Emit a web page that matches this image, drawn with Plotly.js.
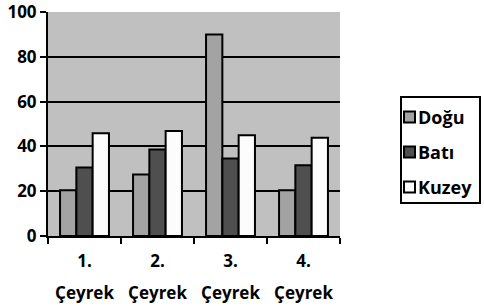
<!DOCTYPE html>
<html>
<head>
<meta charset="utf-8">
<script src="https://cdn.plot.ly/plotly-3.0.1.min.js"></script>
<style>html,body{margin:0;padding:0;background:#fff;}#chart{width:484px;height:306px;}</style>
</head>
<body>
<div id="chart"></div>
<script>
const quarters = ["1.", "2.", "3.", "4."];
const quarterWord = "Çeyrek";
const seriesNames = ["Doğu", "Batı", "Kuzey"];
const dogu = [20.4, 27.4, 90, 20.4];
const bati = [30.6, 38.6, 34.6, 31.6];
const kuzey = [45.9, 46.9, 45, 43.9];
const yTicks = [0, 20, 40, 60, 80, 100];

const seriesValues = [dogu, bati, kuzey];
const seriesColors = ["#a3a3a3", "#4f4f4f", "#fcfcfc"];
const font = {family: "'Open Sans', sans-serif", size: 17, color: "#000", weight: 700};
const legendFont = {family: "'Open Sans', sans-serif", size: 18, color: "#000", weight: 700};

// plot area in pixels (for legend placement)
const W = 484, H = 306;
const M = {l: 48, r: 144, t: 12, b: 70};
const pw = W - M.l - M.r, ph = H - M.t - M.b;
const px = x => (x - M.l) / pw;
const py = y => (H - M.b - y) / ph;

const traces = seriesNames.map((name, i) => ({
  type: "bar",
  name: name,
  x: quarters,
  y: seriesValues[i],
  marker: {color: seriesColors[i], line: {color: "#000", width: 2}},
  hoverinfo: "skip",
  showlegend: false
}));
traces.push({
  type: "scatter", mode: "markers", x: quarters, y: quarters.map(() => 0),
  xaxis: "x2", marker: {opacity: 0}, showlegend: false, hoverinfo: "skip"
});

// custom legend (box, swatches, labels)
const shapes = [{
  type: "rect", xref: "paper", yref: "paper",
  x0: px(401), x1: px(480), y0: py(203), y1: py(97),
  line: {color: "#000", width: 2}, fillcolor: "#fff", layer: "above"
}];
const annotations = [];
const legendY = [117, 152, 187];
seriesNames.forEach((name, i) => {
  shapes.push({
    type: "rect", xref: "paper", yref: "paper",
    x0: px(404), x1: px(415), y0: py(legendY[i] + 5.5), y1: py(legendY[i] - 5.5),
    line: {color: "#000", width: 2}, fillcolor: seriesColors[i], layer: "above"
  });
  annotations.push({
    xref: "paper", yref: "paper", x: px(416), y: py(legendY[i]),
    xanchor: "left", yanchor: "middle", showarrow: false,
    text: name, font: legendFont
  });
});

const layout = {
  width: W, height: H,
  margin: M,
  paper_bgcolor: "#fff",
  plot_bgcolor: "#c0c0c0",
  font: font,
  barmode: "group",
  bargap: 0.33,
  bargroupgap: 0,
  showlegend: false,
  shapes: shapes,
  annotations: annotations,
  xaxis: {
    type: "category", range: [-0.5, 3.5],
    showline: true, linecolor: "#000", linewidth: 2,
    ticks: "outside", ticklen: 6, tickwidth: 2, tickcolor: "#000",
    tickson: "boundaries", showgrid: false, zeroline: false,
    ticklabelstandoff: 9, tickfont: font, fixedrange: true
  },
  xaxis2: {
    type: "category", overlaying: "x", anchor: "y", side: "bottom",
    range: [-0.5, 3.5], tickmode: "array", tickvals: quarters,
    ticktext: quarters.map(() => quarterWord),
    ticks: "", showline: false, showgrid: false, zeroline: false,
    ticklabelstandoff: 45, tickfont: font
  },
  yaxis: {
    range: [0, 100], tickmode: "array", tickvals: yTicks,
    showline: true, linecolor: "#000", linewidth: 2,
    ticks: "outside", ticklen: 6, tickwidth: 2, tickcolor: "#000",
    showgrid: true, gridcolor: "#000", gridwidth: 2,
    zeroline: false, tickfont: font, fixedrange: true,
    ticklabeloverflow: "allow"
  }
};

Plotly.newPlot("chart", traces, layout, {displayModeBar: false, staticPlot: true});
</script>
</body>
</html>
